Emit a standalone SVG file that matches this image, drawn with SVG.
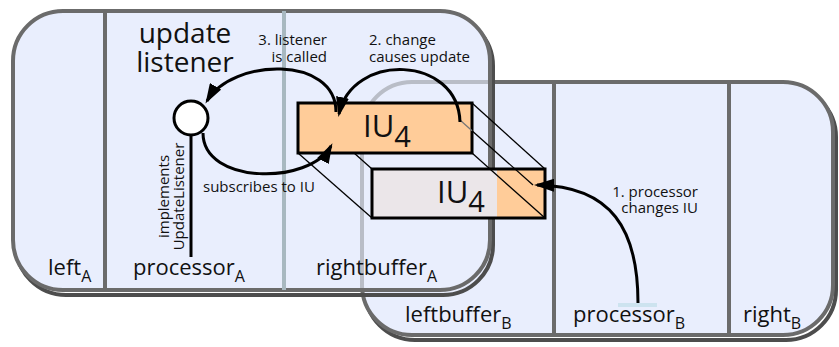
<svg xmlns="http://www.w3.org/2000/svg" width="839" height="347" viewBox="0 0 839 347">
  <style>
    .frame { fill: #e9eefd; stroke: #6b6b6b; stroke-width: 4; }
    .shadow { fill: none; stroke: #4d4d4d; stroke-width: 4; }
    .divider { stroke: #6b6b6b; stroke-width: 4; }
    .txt { font-family: "Open Sans", "Noto Sans", sans-serif; fill: #111; }
    .label { font-size: 22px; }
    .sub { font-size: 16px; }
    .note { font-size: 15px; }
    .title { font-size: 28px; }
    .iu { font-size: 31px; }
    .iusub { font-size: 29px; }
    .box { stroke: #000; stroke-width: 3; }
    .edge { fill: none; stroke: #000; stroke-width: 3; }
    .thin { fill: none; stroke: #000; stroke-width: 1.3; }
  </style>
  <defs>
    <marker id="arrowhead" markerUnits="userSpaceOnUse" markerWidth="21" markerHeight="13" refX="17" refY="6.5" orient="auto">
      <path d="M0,0 L20,6.5 L0,13 z" fill="#000"/>
    </marker>
    <clipPath id="insideA">
      <rect x="15" y="13" width="473" height="275" rx="48"/>
    </clipPath>
  </defs>

  <!-- component B (right) -->
  <g id="component-B">
    <rect class="shadow" x="365" y="87" width="471" height="253" rx="50"/>
    <rect class="frame" x="362" y="82" width="471" height="253" rx="50"/>
    <line class="divider" x1="554" y1="82" x2="554" y2="335"/>
    <line class="divider" x1="729" y1="82" x2="729" y2="335"/>
    <rect x="618" y="303" width="39" height="4" fill="#cde3ef"/>
    <text class="txt label" x="405" y="322">leftbuffer<tspan class="sub" dy="7">B</tspan></text>
    <text class="txt label" x="573" y="322">processor<tspan class="sub" dy="7">B</tspan></text>
    <text class="txt label" x="743" y="322">right<tspan class="sub" dy="7">B</tspan></text>
  </g>

  <!-- component A (left), drawn over B -->
  <g id="component-A">
    <rect class="shadow" x="16" y="16" width="477" height="279" rx="50"/>
    <rect class="frame" x="13" y="11" width="477" height="279" rx="50"/>
    <!-- outline of B seen through A -->
    <rect x="362" y="82" width="471" height="253" rx="50" fill="none" stroke="#b9bdc7" stroke-width="4" clip-path="url(#insideA)"/>
    <line class="divider" x1="105" y1="11" x2="105" y2="290"/>
    <line x1="284" y1="11" x2="284" y2="290" stroke="#a8b8c0" stroke-width="4"/>
    <text class="txt label" x="48" y="275">left<tspan class="sub" dy="7">A</tspan></text>
    <text class="txt label" x="133" y="275">processor<tspan class="sub" dy="7">A</tspan></text>
    <text class="txt label" x="316" y="275">rightbuffer<tspan class="sub" dy="7">A</tspan></text>
  </g>

  <!-- update listener of processor A -->
  <g id="update-listener">
    <line x1="191" y1="136" x2="191" y2="257" stroke="#000" stroke-width="3"/>
    <circle cx="191" cy="118" r="17" fill="#fff" stroke="#000" stroke-width="3"/>
    <text class="txt title" text-anchor="middle"><tspan x="185" y="43">update</tspan><tspan x="185" y="72">listener</tspan></text>
    <text class="txt note" transform="translate(169,196.5) rotate(-90)" text-anchor="middle"><tspan x="0" y="0">implements</tspan><tspan x="0" y="15">UpdateListener</tspan></text>
  </g>

  <!-- hidden prism edge behind the buffered IU -->
  <line class="thin" x1="298" y1="103" x2="372" y2="169"/>

  <!-- IU held in rightbuffer A -->
  <g id="iu-A">
    <rect class="box" x="298" y="103" width="174" height="50" fill="#ffcc99"/>
    <text class="txt iu" x="363" y="137">IU<tspan class="iusub" dy="10">4</tspan></text>
  </g>

  <!-- IU held in leftbuffer B -->
  <g id="iu-B">
    <rect x="372" y="169" width="125" height="49" fill="#ebe6e9"/>
    <rect x="497" y="169" width="48" height="49" fill="#ffcc99"/>
    <rect class="box" x="372" y="169" width="173" height="49" fill="none"/>
    <text class="txt iu" x="437" y="203">IU<tspan class="iusub" dy="9">4</tspan></text>
  </g>

  <g id="connectors">
    <!-- prism edges linking the two IU copies -->
    <line class="thin" x1="298" y1="153" x2="372" y2="218"/>
    <line class="thin" x1="472" y1="103" x2="545" y2="169"/>
    <line class="thin" x1="472" y1="153" x2="545" y2="218"/>
    <line class="thin" x1="533" y1="185" x2="472" y2="130.7"/>
    <line x1="472" y1="130.7" x2="460" y2="120" stroke="#777" stroke-width="1.3"/>

    <!-- 1. processor changes IU -->
    <path class="edge" d="M638,303 C638,230 612,186 537,185" marker-end="url(#arrowhead)"/>
    <text class="txt note" text-anchor="end"><tspan x="698" y="197">1. processor</tspan><tspan x="698" y="213">changes IU</tspan></text>

    <!-- 2. change causes update -->
    <path class="edge" d="M460,122 C458,55 352,52 339,114" marker-end="url(#arrowhead)"/>
    <text class="txt note"><tspan x="369" y="45">2. change</tspan><tspan x="369" y="62">causes update</tspan></text>

    <!-- 3. listener is called -->
    <path class="edge" d="M336,112 C336,55 232,58 207,101" marker-end="url(#arrowhead)"/>
    <text class="txt note" text-anchor="end"><tspan x="327" y="45">3. listener</tspan><tspan x="327" y="62">is called</tspan></text>

    <!-- subscription -->
    <path class="edge" d="M203,133 C203,185 310,185 331,146" marker-end="url(#arrowhead)"/>
    <text class="txt note" x="203" y="192">subscribes to IU</text>
  </g>
</svg>
